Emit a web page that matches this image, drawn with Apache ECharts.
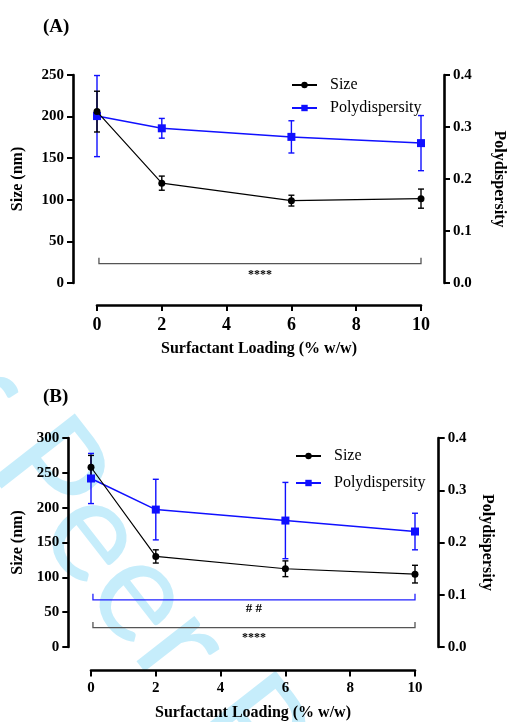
<!DOCTYPE html>
<html>
<head>
<meta charset="utf-8">
<script src="https://cdn.jsdelivr.net/npm/echarts@6/dist/echarts.min.js"></script>
<style>
html,body{margin:0;padding:0;background:#fff;}
#chart{width:508px;height:722px;}
</style>
</head>
<body>
<div id="chart"></div>
<script>
// ---- data ----
const xLoading = [0, 2, 6, 10];
const xTicks = [0, 2, 4, 6, 8, 10];

// Panel A
const sizeA = [206, 120, 99, 101.4];
const sizeErrA = [24.5, 8.5, 6.5, 11.5];
const pdiA = [0.321, 0.2975, 0.281, 0.269];
const pdiErrA = [0.078, 0.019, 0.031, 0.053];

// Panel B
const sizeB = [258, 130, 112.3, 104.6];
const sizeErrB = [17, 9.5, 11.3, 12.7];
const pdiB = [0.3225, 0.263, 0.242, 0.221];
const pdiErrB = [0.048, 0.058, 0.073, 0.035];

// significance brackets (data units: x from, x to, y, tick height, label, label y)
const bracketA = [[0.06, 10, 23.2, 7, '****', 9.6]];
const bracketB1 = [[0.06, 10, 67.7, 8.6, '# #', 55.3]];
const bracketB2 = [[0.06, 10, 27.9, 8, '****', 13]];

const seriesNames = ['Size', 'Polydispersity'];
const panelLabels = ['(A)', '(B)'];
const xTitle = 'Surfactant Loading (% w/w)';
const yTitleLeft = 'Size (nm)';
const yTitleRight = 'Polydispersity';
const watermark = 'For Peer Review';

// ---- helpers ----
const SERIF = '"Liberation Serif", "Times New Roman", serif';
const BLUE = '#1010ff';

function pairs(xs, ys) { return xs.map((x, i) => [x, ys[i]]); }
function triples(xs, ys, es) { return xs.map((x, i) => [x, ys[i], es[i]]); }

function errSeries(xi, yi, data, color) {
  return {
    type: 'custom', xAxisIndex: xi, yAxisIndex: yi, z: 3, silent: true,
    data: data,
    renderItem: function (params, api) {
      const x = api.value(0), y = api.value(1), e = api.value(2);
      const t = api.coord([x, y + e]), b = api.coord([x, y - e]);
      const w = 3;
      const st = { stroke: color, lineWidth: 1.4 };
      return { type: 'group', children: [
        { type: 'line', shape: { x1: t[0], y1: t[1], x2: b[0], y2: b[1] }, style: st },
        { type: 'line', shape: { x1: t[0] - w, y1: t[1], x2: t[0] + w, y2: t[1] }, style: st },
        { type: 'line', shape: { x1: b[0] - w, y1: b[1], x2: b[0] + w, y2: b[1] }, style: st }
      ]};
    }
  };
}

function bracketSeries(xi, yi, data, color, fontSize) {
  return {
    type: 'custom', xAxisIndex: xi, yAxisIndex: yi, z: 3, silent: true,
    data: data,
    renderItem: function (params, api) {
      const d = data[params.dataIndex];
      const p0 = api.coord([d[0], d[2] + d[3]]);
      const p1 = api.coord([d[0], d[2]]);
      const p2 = api.coord([d[1], d[2]]);
      const p3 = api.coord([d[1], d[2] + d[3]]);
      const lp = api.coord([(d[0] + d[1]) / 2, d[5]]);
      return { type: 'group', children: [
        { type: 'polyline', shape: { points: [p0, p1, p2, p3] },
          style: { stroke: color, lineWidth: 1.3, fill: null } },
        { type: 'text', style: { text: d[4], x: lp[0], y: lp[1], align: 'center', verticalAlign: 'middle',
          font: 'bold ' + fontSize + 'px ' + SERIF, fill: '#000' } }
      ]};
    }
  };
}

function xAxisDef(gi, offset, labelSize, margin, nameGap) {
  return {
    gridIndex: gi, type: 'value', min: 0, max: 10, interval: 2, offset: offset,
    axisLine: { onZero: false, lineStyle: { color: '#000', width: 2.6 } },
    axisTick: { length: 6, lineStyle: { color: '#000', width: 2 } },
    axisLabel: { fontSize: labelSize, fontWeight: 'bold', fontFamily: SERIF, color: '#000', margin: margin },
    splitLine: { show: false },
    name: xTitle, nameLocation: 'middle', nameGap: nameGap,
    nameTextStyle: { fontSize: 16, fontWeight: 'bold', fontFamily: SERIF, color: '#000' }
  };
}

function yAxisDef(gi, pos, max, interval, offset, name, nameGap, fmt) {
  return {
    gridIndex: gi, type: 'value', position: pos, min: 0, max: max, interval: interval, offset: offset,
    axisLine: { show: true, onZero: false, lineStyle: { color: '#000', width: 2.6 } },
    axisTick: { show: true, length: 6, lineStyle: { color: '#000', width: 2 } },
    axisLabel: { fontSize: 15, fontWeight: 'bold', fontFamily: SERIF, color: '#000', margin: 9,
      formatter: fmt },
    splitLine: { show: false },
    name: name, nameLocation: 'middle', nameGap: nameGap, nameRotate: pos === 'left' ? 90 : -90,
    nameTextStyle: { fontSize: 16, fontWeight: 'bold', fontFamily: SERIF, color: '#000' }
  };
}

function lineSeries(name, xi, yi, data, color, symbol, width, z) {
  return {
    name: name, type: 'line', xAxisIndex: xi, yAxisIndex: yi, z: z,
    data: data, symbol: symbol, symbolSize: symbol === 'rect' ? 8 : 7, showSymbol: true,
    lineStyle: { color: color, width: width }, itemStyle: { color: color },
    animation: false
  };
}

function legendDef(left, top, gap, fs) {
  return {
    data: seriesNames, orient: 'vertical', left: left, top: top, padding: 0,
    itemWidth: 25, itemHeight: 8, itemGap: gap, selectedMode: false,
    textStyle: { fontFamily: SERIF, fontSize: fs, color: '#000', padding: [0, 0, 0, 8] }
  };
}

const fmt1 = v => v.toFixed(1);

const option = {
  animation: false,
  backgroundColor: '#fff',
  title: [
    { text: panelLabels[0], left: 38, top: 13, textStyle: { fontFamily: SERIF, fontSize: 19, fontWeight: 'bold', color: '#000' } },
    { text: panelLabels[1], left: 38, top: 383, textStyle: { fontFamily: SERIF, fontSize: 19, fontWeight: 'bold', color: '#000' } }
  ],
  graphic: [
    { type: 'text', x: -131, y: 243, rotation: -52 * Math.PI / 180, z: -10, silent: true,
      style: { text: watermark, font: '145px Lato, "Open Sans", Inter, sans-serif', fill: '#c6edfb',
        align: 'left', verticalAlign: 'middle' } }
  ],
  legend: [ legendDef(291, 77, 7, 16), legendDef(295, 448, 11, 16) ],
  grid: [
    { left: 97, top: 75, width: 324, height: 208, outerBoundsMode: 'none', containLabel: false },
    { left: 91, top: 438, width: 324, height: 209, outerBoundsMode: 'none', containLabel: false }
  ],
  xAxis: [ xAxisDef(0, 22, 18, 11, 36), xAxisDef(1, 23.6, 15, 10, 34) ],
  yAxis: [
    yAxisDef(0, 'left', 250, 50, 24, yTitleLeft, 47),
    yAxisDef(0, 'right', 0.4, 0.1, 23, yTitleRight, 47, fmt1),
    yAxisDef(1, 'left', 300, 50, 22.7, yTitleLeft, 42),
    yAxisDef(1, 'right', 0.4, 0.1, 23.7, yTitleRight, 40, fmt1)
  ],
  series: [
    errSeries(0, 1, triples(xLoading, pdiA, pdiErrA), BLUE),
    lineSeries(seriesNames[1], 0, 1, pairs(xLoading, pdiA), BLUE, 'rect', 1.5, 4),
    errSeries(0, 0, triples(xLoading, sizeA, sizeErrA), '#000'),
    lineSeries(seriesNames[0], 0, 0, pairs(xLoading, sizeA), '#000', 'circle', 1.2, 5),
    bracketSeries(0, 0, bracketA, '#555', 12),

    errSeries(1, 3, triples(xLoading, pdiB, pdiErrB), BLUE),
    lineSeries(seriesNames[1], 1, 3, pairs(xLoading, pdiB), BLUE, 'rect', 1.5, 4),
    errSeries(1, 2, triples(xLoading, sizeB, sizeErrB), '#000'),
    lineSeries(seriesNames[0], 1, 2, pairs(xLoading, sizeB), '#000', 'circle', 1.2, 5),
    bracketSeries(1, 2, bracketB1, '#2020ff', 13),
    bracketSeries(1, 2, bracketB2, '#555', 12)
  ]
};

const chart = echarts.init(document.getElementById('chart'), null, { renderer: 'canvas' });
chart.setOption(option);
</script>
</body>
</html>
